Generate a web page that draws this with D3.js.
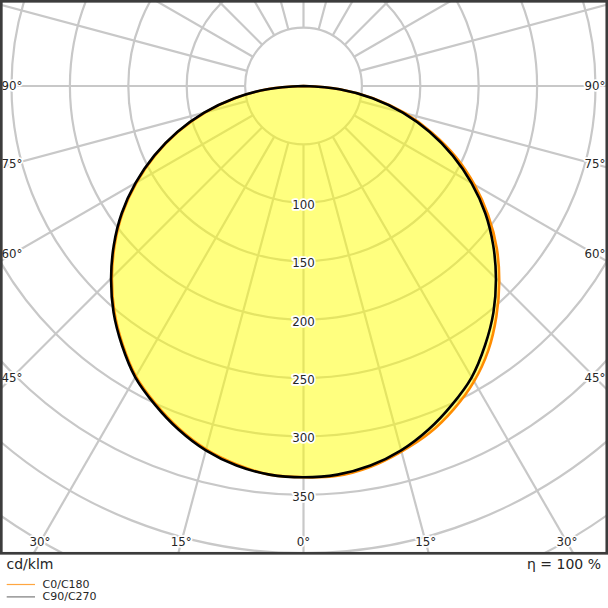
<!DOCTYPE html>
<html>
<head>
<meta charset="utf-8">
<script src="https://cdn.jsdelivr.net/npm/d3@7"></script>
<style>
body { margin: 0; background: #fff; }
text { font-family: "DejaVu Sans", sans-serif; }
</style>
</head>
<body>
<svg width="608" height="608"></svg>
<script>
// gamma angles (deg from nadir) and intensities in cd/klm
var gammas = [0, 5, 10, 15, 20, 25, 30, 35, 40, 45, 50, 55, 60, 65, 70, 75, 80, 85, 90];
var c0     = [335, 335, 331, 324, 316, 305, 292, 276, 257, 237, 216, 193, 169, 144, 117, 90, 61, 31, 0];
var c180   = [335, 334, 329, 322, 312, 300, 287, 270, 252, 232, 211, 189, 165, 140, 114, 87, 59, 30, 0];
var c90    = [335, 334, 330, 323, 313, 301, 288, 271, 253, 233, 212, 190, 166, 141, 115, 88, 60, 31, 0];
var c270   = [335, 334, 330, 323, 313, 301, 288, 271, 253, 233, 212, 190, 166, 141, 115, 88, 60, 31, 0];

var rings = [50, 100, 150, 200, 250, 300, 350, 400, 450, 500];
var ringLabels = [100, 150, 200, 250, 300, 350];
var angleTicks = [0, 15, 30, 45, 60, 75, 90];
var seriesNames = ["C0/C180", "C90/C270"];

function main(){
    var svg = d3.select("svg"),
        cx = 303.5, cy = 86,
        fx = 1.3, fy = 1.3, fw = 605.5, fh = 552;

    var rScale = d3.scaleLinear().domain([0, 50]).range([0, 58.4]);
    var rad = Math.PI / 180;

    svg.append("defs").append("clipPath").attr("id", "frameclip")
        .append("rect").attr("x", fx).attr("y", fy).attr("width", fw).attr("height", fh);

    var plot = svg.append("g").attr("clip-path", "url(#frameclip)");
    var grid = plot.append("g").attr("transform", "translate(" + cx + "," + cy + ")");

    // rings
    grid.selectAll(".ring")
        .data(rings)
        .enter().append("circle")
        .attr("class", "ring")
        .attr("r", function(d){ return rScale(d); })
        .attr("fill", "none")
        .attr("stroke", "#c8c8c8")
        .attr("stroke-width", 2.2);

    // spokes every 15 deg, starting at the 50 ring
    grid.selectAll(".spoke")
        .data(d3.range(0, 360, 15))
        .enter().append("line")
        .attr("class", "spoke")
        .attr("x1", function(d){ return rScale(50) * Math.sin(d * rad); })
        .attr("y1", function(d){ return rScale(50) * Math.cos(d * rad); })
        .attr("x2", function(d){ return rScale(700) * Math.sin(d * rad); })
        .attr("y2", function(d){ return rScale(700) * Math.cos(d * rad); })
        .attr("stroke", "#c8c8c8")
        .attr("stroke-width", 2.2);

    // label positions
    var inset = 10.7, bottomY = 542.3;
    var angleLabels = [];
    angleTicks.forEach(function(a){
        var sides = a == 0 ? [1] : [-1, 1];
        sides.forEach(function(s){
            var sn = Math.sin(a * rad), cs = Math.cos(a * rad);
            var tSide = sn > 1e-6 ? (cx - fx - inset) / sn : Infinity;
            var tBot = cs > 1e-6 ? (bottomY - cy) / cs : Infinity;
            var t = Math.min(tSide, tBot);
            angleLabels.push({text: a + "°", x: cx + s * t * sn, y: cy + t * cs});
        });
    });
    var ringText = ringLabels.map(function(v){
        return {text: String(v), x: cx, y: cy + rScale(v) + 2};
    });
    var allLabels = angleLabels.concat(ringText);

    // white halos under the fill
    svg.append("g").selectAll("text")
        .data(allLabels)
        .enter().append("text")
        .attr("x", function(d){ return d.x; })
        .attr("y", function(d){ return d.y; })
        .attr("text-anchor", "middle")
        .attr("dominant-baseline", "central")
        .attr("font-size", 11.8)
        .attr("fill", "#fff")
        .attr("stroke", "#fff")
        .attr("stroke-width", 3.5)
        .attr("stroke-linejoin", "round")
        .text(function(d){ return d.text; });

    // curves
    function curvePoints(left, right){
        var pts = [];
        for (var i = gammas.length - 1; i >= 0; i--) {
            pts.push({a: Math.PI + gammas[i] * rad, v: left[i]});
        }
        for (var j = 1; j < gammas.length; j++) {
            pts.push({a: Math.PI - gammas[j] * rad, v: right[j]});
        }
        return pts;
    }
    var line = d3.lineRadial()
        .angle(function(d){ return d.a; })
        .radius(function(d){ return rScale(d.v); })
        .curve(d3.curveCatmullRom);

    var pathA = line(curvePoints(c180, c0)) + "Z";
    var pathB = line(curvePoints(c270, c90)) + "Z";

    var curves = plot.append("g").attr("transform", "translate(" + cx + "," + cy + ")");
    curves.append("path")
        .attr("d", pathA + pathB)
        .attr("fill", "#ffff00")
        .attr("fill-opacity", 0.5)
        .attr("fill-rule", "nonzero");
    curves.append("path")
        .attr("d", pathA)
        .attr("fill", "none")
        .attr("stroke", "#ff8c00")
        .attr("stroke-width", 2.6);
    curves.append("path")
        .attr("d", pathB)
        .attr("fill", "none")
        .attr("stroke", "#000")
        .attr("stroke-width", 2.6);

    // label text
    svg.append("g").selectAll("text")
        .data(allLabels)
        .enter().append("text")
        .attr("x", function(d){ return d.x; })
        .attr("y", function(d){ return d.y; })
        .attr("text-anchor", "middle")
        .attr("dominant-baseline", "central")
        .attr("font-size", 11.8)
        .attr("fill", "#262626")
        .text(function(d){ return d.text; });

    // frame
    svg.append("rect")
        .attr("x", fx).attr("y", fy).attr("width", fw).attr("height", fh)
        .attr("fill", "none")
        .attr("stroke", "#3c3c3c")
        .attr("stroke-width", 2.7);

    svg.append("text")
        .attr("x", 6.5).attr("y", 564)
        .attr("dominant-baseline", "central")
        .attr("font-size", 14)
        .attr("fill", "#262626")
        .text("cd/klm");
    svg.append("text")
        .attr("x", 601).attr("y", 564)
        .attr("text-anchor", "end")
        .attr("dominant-baseline", "central")
        .attr("font-size", 14)
        .attr("fill", "#262626")
        .text("η = 100 %");

    // legend
    var legendColors = ["#ffa640", "#7a7a7a"];
    var legend = svg.append("g").selectAll("g")
        .data(seriesNames)
        .enter().append("g")
        .attr("transform", function(d, i){ return "translate(0," + (584.5 + i * 12.4) + ")"; });
    legend.append("line")
        .attr("x1", 6.7).attr("x2", 35)
        .attr("stroke", function(d, i){ return legendColors[i]; })
        .attr("stroke-width", 1.2);
    legend.append("text")
        .attr("x", 42.5)
        .attr("dominant-baseline", "central")
        .attr("font-size", 11)
        .attr("fill", "#262626")
        .text(function(d){ return d; });
}
main();
</script>
</body>
</html>
